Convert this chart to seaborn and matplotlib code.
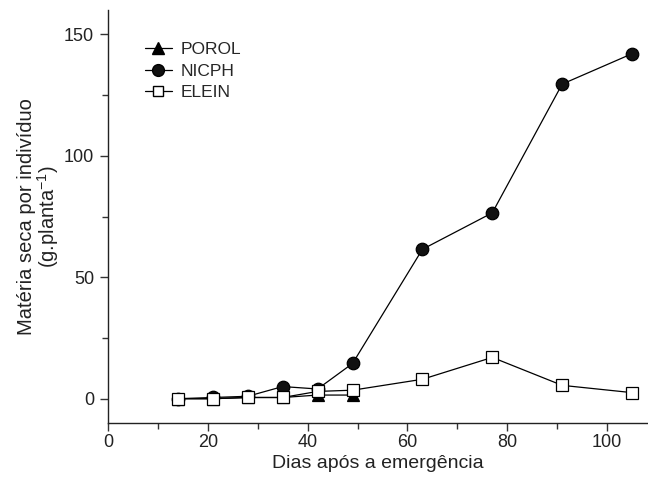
import matplotlib
matplotlib.use("Agg")
import matplotlib.pyplot as plt
import seaborn as sns
import pandas as pd
from matplotlib.lines import Line2D
from matplotlib.ticker import MultipleLocator

days_porol = [14, 21, 28, 35, 42, 49]
porol = [0.0, 0.0, 0.5, 0.5, 1.5, 1.5]
days_all = [14, 21, 28, 35, 42, 49, 63, 77, 91, 105]
nicph = [0.0, 0.5, 1.0, 5.0, 4.0, 14.5, 61.5, 76.5, 129.5, 142.0]
elein = [0.0, 0.0, 0.5, 0.5, 3.0, 3.5, 8.0, 17.0, 5.5, 2.5]
series_names = ["POROL", "NICPH", "ELEIN"]
xlabel = "Dias após a emergência"
ylabel = "Matéria seca por indivíduo\n(g.planta$^{\\mathregular{-1}}$)"

sns.set_style("ticks")
plt.rcParams["font.family"] = ["Liberation Sans", "DejaVu Sans"]
plt.rcParams["font.size"] = 12

fig = plt.figure(figsize=(6.48, 4.88), dpi=100)
ax = fig.add_axes([108 / 648, 1 - 423 / 488, (647 - 108) / 648, (423 - 10) / 488])

df_p = pd.DataFrame({"x": days_porol, "y": porol})
df_n = pd.DataFrame({"x": days_all, "y": nicph})
df_e = pd.DataFrame({"x": days_all, "y": elein})

common = dict(color="black", linewidth=0.9, markeredgecolor="black", markeredgewidth=0.9)
sns.lineplot(data=df_p, x="x", y="y", ax=ax, marker="^", markersize=8.5,
             markerfacecolor="black", zorder=3, **common)
sns.lineplot(data=df_n, x="x", y="y", ax=ax, marker="o", markersize=9,
             markerfacecolor="#111111", zorder=4, **common)
sns.lineplot(data=df_e, x="x", y="y", ax=ax, marker="s", markersize=8.5,
             markerfacecolor="white", zorder=5, **common)

ax.set_xlim(0, 108)
ax.set_ylim(-10, 160)
ax.xaxis.set_major_locator(MultipleLocator(20))
ax.xaxis.set_minor_locator(MultipleLocator(10))
ax.yaxis.set_major_locator(MultipleLocator(50))
ax.yaxis.set_minor_locator(MultipleLocator(25))
ax.tick_params(which="major", direction="out", length=6, width=1, colors="#333333",
               labelcolor="#222222", labelsize=13)
ax.tick_params(axis="x", which="major", pad=2)
ax.tick_params(axis="y", which="major", pad=4)
ax.tick_params(which="minor", direction="out", length=4, width=1, colors="#333333")
for s in ["top", "right"]:
    ax.spines[s].set_visible(False)
for s in ["left", "bottom"]:
    ax.spines[s].set_linewidth(1)
    ax.spines[s].set_color("#222222")

ax.set_xlabel(xlabel, fontsize=14, color="#222222", labelpad=3)
ax.set_ylabel(ylabel, fontsize=14.5, color="#222222", labelpad=2, linespacing=0.95)

handles = [
    Line2D([], [], color="black", lw=0.9, marker="^", markersize=8.5, markerfacecolor="black"),
    Line2D([], [], color="black", lw=0.9, marker="o", markersize=8.5, markerfacecolor="#111111"),
    Line2D([], [], color="black", lw=0.9, marker="s", markersize=7, markerfacecolor="white"),
]
ax.legend(handles, series_names, loc="upper left", bbox_to_anchor=(0.055, 0.94),
          frameon=False, fontsize=12.5, handlelength=1.6, handletextpad=0.5,
          labelspacing=0.38, borderaxespad=0)

fig.savefig("out.png", dpi=100)
